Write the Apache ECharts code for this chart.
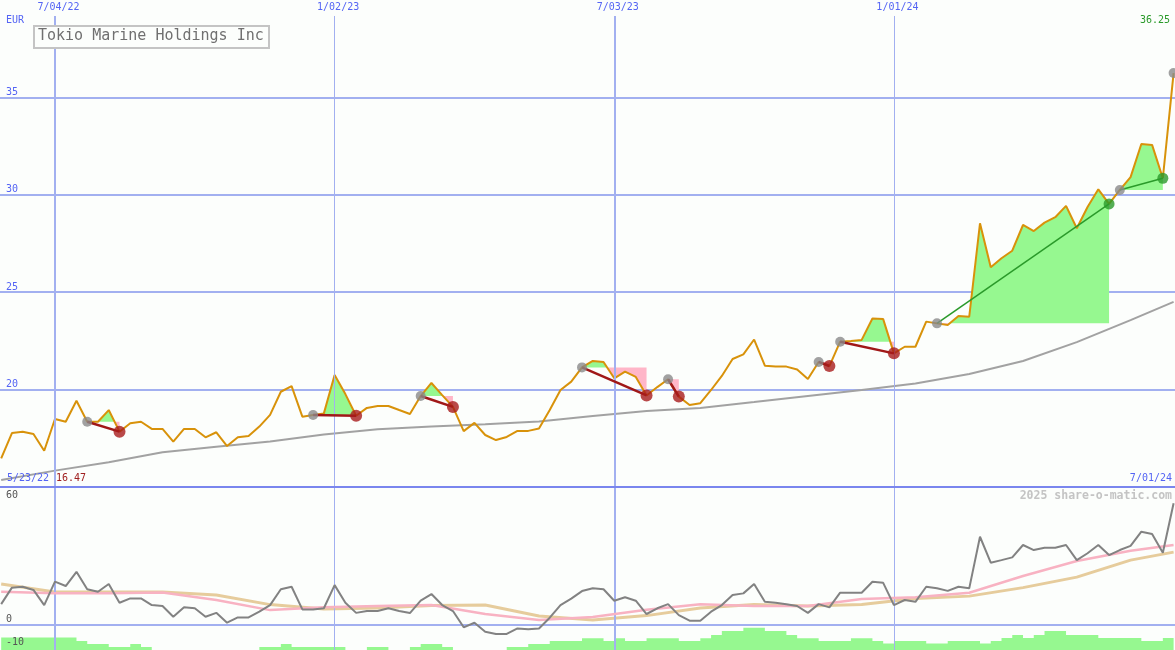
<!DOCTYPE html>
<html><head><meta charset="utf-8">
<script src="https://cdn.jsdelivr.net/npm/echarts@6/dist/echarts.min.js"></script>
<style>html,body{margin:0;padding:0;background:#fcfefc;}#c{width:1175px;height:650px;}</style>
</head><body><div id="c"></div>
<script>
// ---- data (weekly, week 0 = 7/04/22) ----
const startWeek = -5;
const dateTicks = [0, 26, 52, 78];
const dateLabels = ['7/04/22', '1/02/23', '7/03/23', '1/01/24'];
const firstDateLabel = '5/23/22';
const lastDateLabel = '7/01/24';
const priceTicks = [20, 25, 30, 35];
const oscTicksLow = [0, -10];
const oscTicksHigh = [60];
const titleText = 'Tokio Marine Holdings Inc';
const currencyText = 'EUR';
const watermarkText = '2025 share-o-matic.com';

const price = [
  16.47,17.77,17.84,17.72,16.86, 18.49,18.35,19.43,18.35,18.35,
  18.95,17.84,18.27,18.35,17.98, 17.98,17.33,17.98,17.98,17.55,
  17.81,17.10,17.55,17.62,18.10, 18.70,19.89,20.18,18.61,18.70,
  18.78,20.75,19.77,18.66,19.06, 19.16,19.16,18.95,18.75,19.67,
  20.34,19.72,19.11,17.87,18.29, 17.67,17.41,17.57,17.88,17.88,
  18.00,18.95,19.98,20.41,21.14, 21.47,21.42,20.58,20.92,20.65,
  19.70,20.13,20.53,19.64,19.21, 19.30,19.98,20.70,21.57,21.81,
  22.57,21.23,21.18,21.18,21.03, 20.54,21.42,21.21,22.46,22.50,
  22.55,23.65,23.62,21.86,22.20, 22.20,23.49,23.40,23.32,23.78,
  23.74,28.54,26.28,26.74,27.13, 28.45,28.14,28.57,28.85,29.43,
  28.28,29.37,30.28,29.53,30.25, 30.91,32.61,32.56,30.85,36.25
];
const smoothWeeks = [-5,0,5,10,15,20,25,30,35,40,45,50,55,60,65,70,75,80,85,90,95,100,104];
const priceMA = [15.36,15.84,16.27,16.78,17.07,17.33,17.70,17.96,18.10,18.22,18.36,18.64,18.90,19.06,19.36,19.67,19.98,20.31,20.80,21.47,22.44,23.57,24.50];

const osc = [
  8.9,16.1,16.5,15.1,8.5, 18.7,16.8,23.0,15.4,14.3,
  17.7,9.5,11.4,11.4,8.5, 8.1,3.4,7.5,7.1,3.4,
  5.1,0.8,3.1,3.1,5.6, 8.5,15.4,16.5,6.6,6.6,
  7.1,17.2,9.5,5.1,5.9, 5.9,7.1,5.9,5.0,10.4,
  13.3,8.5,5.9,-1.2,0.8, -3.1,-4.1,-4.1,-1.7,-2.1,
  -1.7,3.0,8.5,11.3,14.6, 15.8,15.4,10.4,11.9,10.4,
  4.6,7.1,8.9,4.1,1.7, 1.7,5.6,8.5,12.9,13.6,
  17.7,9.9,9.5,8.9,8.1, 5.1,8.9,7.5,13.9,13.9,
  13.9,18.7,18.2,8.5,10.7, 9.9,16.5,15.8,14.7,16.5,
  15.8,38.3,27.0,28.1,29.3, 34.7,32.5,33.5,33.5,34.7,
  28.1,31.1,34.7,30.3,32.5, 34.3,40.5,39.5,31.3,52.9
];
const oscPink = [14.3,13.6,13.7,14.0,10.7,6.3,7.6,8.1,8.5,4.6,2.0,3.3,6.5,8.9,8.1,8.1,11.1,11.9,13.9,21.2,27.7,32.2,34.7];
const oscTan  = [17.7,14.2,14.2,14.2,12.9,8.7,6.8,7.2,8.3,8.5,3.7,2.0,3.9,7.2,8.7,8.1,8.7,11.4,12.4,16.1,20.7,28.1,31.6];

const histo = [
  5.5,5.5,5.5,5.5,5.5, 5.5,5.5,3.9,2.6,2.6,
  1.3,1.3,2.6,1.3,0, 0,0,0,0,0,
  0,0,0,0,1.3, 1.3,2.6,1.3,1.3,1.3,
  1.3,1.3,0,0,1.3, 1.3,0,0,1.3,2.6,
  2.6,1.3,0,0,0, 0,0,1.3,1.3,2.6,
  2.6,3.9,3.9,3.9,5.1, 5.1,3.9,5.1,3.9,3.9,
  5.1,5.1,5.1,3.9,3.9, 5.1,6.5,8.3,8.3,9.7,
  9.7,8.3,8.3,6.5,5.1, 5.1,3.9,3.9,3.9,5.1,
  5.1,3.9,2.8,3.9,3.9, 3.9,2.8,2.8,3.9,3.9,
  3.9,2.8,3.9,5.2,6.5, 5.2,6.5,8.3,8.3,6.5,
  6.5,6.5,5.2,5.2,5.2, 5.2,3.9,3.9,5.2,5.2
];
// signal segments [start week, end week]
const segments = [[3,6],[24,28],[34,37],[49,55],[57,58],[71,72],[73,78],[82,98],[99,103]];
const openSignals = [104];

// ---- helpers ----
const X_MIN = -5.11, X_MAX = 104.13;
const P = w => price[w - startWeek];
const weekOf = i => startWeek + i;
const pairs = (arr) => arr.map((v, i) => [weekOf(i), v]);
const smoothPairs = (arr) => arr.map((v, i) => [smoothWeeks[i], v]);

function buildFills() {
  const out = [];
  segments.forEach(([s, e]) => {
    const base = P(s);
    let run = [[s, P(s)]];
    let sign = 0;
    for (let w = s; w < e; w++) {
      const a = P(w) - base, b = P(w + 1) - base;
      if (sign === 0 && a !== 0) sign = Math.sign(a);
      if (a * b < 0) {
        const xc = w + a / (a - b);
        run.push([xc, base]);
        out.push({ sign: Math.sign(a), base, pts: run });
        run = [[xc, base]];
        sign = Math.sign(b);
      }
      run.push([w + 1, P(w + 1)]);
      if (sign === 0 && b !== 0) sign = Math.sign(b);
    }
    out.push({ sign, base, pts: run });
  });
  return out.filter(f => f.sign !== 0).map(f => {
    const pts = f.pts.slice();
    pts.push([pts[pts.length - 1][0], f.base]);
    pts.push([pts[0][0], f.base]);
    return { sign: f.sign, pts };
  });
}
const fills = buildFills();

const grayPts = segments.map(([s]) => [s, P(s)]).concat(openSignals.map(w => [w, P(w)]));
const redPts = segments.filter(([s, e]) => P(e) < P(s)).map(([s, e]) => [e, P(e)]);
const greenPts = segments.filter(([s, e]) => P(e) >= P(s)).map(([s, e]) => [e, P(e)]);

const MONO = 'DejaVu Sans Mono';
const BLUE = '#5464f4';
const GRID = '#a2b0f0';

const chart = echarts.init(document.getElementById('c'), null, { renderer: 'canvas' });
chart.setOption({
  backgroundColor: '#fcfefc',
  animation: false,
  grid: [
    { left: 0, right: 0, top: 0, height: 487 },
    { left: 0, right: 0, top: 487, bottom: 0 }
  ],
  xAxis: [
    { gridIndex: 0, type: 'value', min: X_MIN, max: X_MAX, position: 'top',
      axisLine: { show: false, onZero: false }, axisTick: { show: false }, splitLine: { show: false },
      axisLabel: { inside: true, customValues: dateTicks, margin: 2, padding: [0, 0, 0, 7],
        formatter: v => { const k = dateTicks.indexOf(v); return k >= 0 ? dateLabels[k] : ''; },
        color: BLUE, fontFamily: MONO, fontSize: 10 } },
    { gridIndex: 0, type: 'value', min: X_MIN, max: X_MAX, position: 'bottom', z: 20,
      axisLine: { show: true, onZero: false, lineStyle: { color: '#7a86ee', width: 2 } },
      axisTick: { show: false }, axisLabel: { show: false }, splitLine: { show: false } },
    { gridIndex: 1, type: 'value', min: X_MIN, max: X_MAX, show: false }
  ],
  yAxis: [
    { gridIndex: 0, type: 'value', min: 15, max: 40, interval: 5,
      axisLine: { show: false }, axisTick: { show: false },
      splitLine: { lineStyle: { color: ['rgba(0,0,0,0)', GRID, GRID, GRID, GRID, 'rgba(0,0,0,0)'], width: 2 } },
      axisLabel: { inside: true, customValues: priceTicks, margin: 6, verticalAlign: 'bottom',
        color: BLUE, fontFamily: MONO, fontSize: 10 } },
    { gridIndex: 1, type: 'value', min: -11.1, max: 60, position: 'left', z: 20,
      axisLine: { show: false }, axisTick: { show: false }, splitLine: { show: false },
      axisLabel: { inside: true, customValues: oscTicksLow, margin: 6, verticalAlign: 'bottom',
        color: '#555', fontFamily: MONO, fontSize: 10 } },
    { gridIndex: 1, type: 'value', min: -11.1, max: 60, position: 'left', z: 20,
      axisLine: { show: false }, axisTick: { show: false }, splitLine: { show: false },
      axisLabel: { inside: true, customValues: oscTicksHigh, margin: 6, verticalAlign: 'top',
        color: '#555', fontFamily: MONO, fontSize: 10, padding: [3, 0, 0, 0] } },
    { gridIndex: 1, type: 'value', min: 0, max: 71.1, show: false }
  ],
  graphic: [
    { type: 'rect', left: 33, top: 25, shape: { width: 235, height: 22 },
      style: { fill: '#fcfefc', stroke: '#c4c4c4', lineWidth: 2 }, z: 100 },
    { type: 'text', left: 38, top: 29, z: 101,
      style: { text: titleText, fill: '#707070', font: '15px "DejaVu Sans Mono"' } },
    { type: 'text', left: 6, top: 15, z: 101,
      style: { text: currencyText, fill: BLUE, font: '10px "DejaVu Sans Mono"' } },
    { type: 'text', right: 5, top: 15, z: 101,
      style: { text: price[price.length - 1].toFixed(2), fill: '#2a9a2a', font: '10px "DejaVu Sans Mono"' } },
    { type: 'text', left: 7, top: 473, z: 101,
      style: { text: firstDateLabel, fill: BLUE, font: '10px "DejaVu Sans Mono"' } },
    { type: 'text', left: 56, top: 473, z: 101,
      style: { text: price[0].toFixed(2), fill: '#a02020', font: '10px "DejaVu Sans Mono"' } },
    { type: 'text', right: 3, top: 473, z: 101,
      style: { text: lastDateLabel, fill: BLUE, font: '10px "DejaVu Sans Mono"' } },
    { type: 'text', right: 3, top: 490, z: 101,
      style: { text: watermarkText, fill: '#c4c4c4', font: 'bold 11.5px "DejaVu Sans Mono"' } }
  ],
  series: [
    // vertical date lines, top panel
    { type: 'line', xAxisIndex: 0, yAxisIndex: 0, data: [], z: 1, silent: true,
      markLine: { silent: true, symbol: ['none', 'none'], label: { show: false }, animation: false,
        data: dateTicks.map((w, i) => [
          { coord: [w, 39.18], lineStyle: { color: GRID, width: i % 2 === 0 ? 2 : 1, type: 'solid' } },
          { coord: [w, 15] }]) } },
    // bottom panel histogram
    { type: 'line', xAxisIndex: 2, yAxisIndex: 3, z: 2, data: pairs(histo), step: 'end', symbol: 'none',
      lineStyle: { width: 0 }, areaStyle: { color: '#96f890', opacity: 1, origin: 'start' } },
    // vertical date lines + zero line, bottom panel (above the histogram)
    { type: 'line', xAxisIndex: 2, yAxisIndex: 1, data: [], z: 3, silent: true,
      markLine: { silent: true, symbol: ['none', 'none'], label: { show: false }, animation: false,
        data: dateTicks.map((w, i) => [
          { coord: [w, 60], lineStyle: { color: GRID, width: i % 2 === 0 ? 2 : 1, type: 'solid' } },
          { coord: [w, -11.1] }]).concat([
          [{ coord: [X_MIN, 0], lineStyle: { color: GRID, width: 2, type: 'solid' } }, { coord: [X_MAX, 0] }]]) } },
    // green / pink signal fills
    { type: 'custom', xAxisIndex: 0, yAxisIndex: 0, z: 2, silent: true, data: [[0, 20]],
      renderItem: (params, api) => ({ type: 'group', children: fills.map(f => ({
        type: 'polygon', shape: { points: f.pts.map(p => api.coord(p)) },
        style: { fill: f.sign > 0 ? '#96f890' : '#ffb6c8' } })) }) },
    // moving average
    { type: 'line', xAxisIndex: 0, yAxisIndex: 0, z: 3, data: smoothPairs(priceMA), symbol: 'none',
      lineStyle: { color: '#a2a2a2', width: 2 } },
    // price
    { type: 'line', xAxisIndex: 0, yAxisIndex: 0, z: 4, data: pairs(price), symbol: 'none',
      lineStyle: { color: '#d8920a', width: 2 } },
    // signal connectors
    { type: 'custom', xAxisIndex: 0, yAxisIndex: 0, z: 5, silent: true, data: [[0, 20]],
      renderItem: (params, api) => ({ type: 'group', children: segments.map(([s, e]) => {
        const a = api.coord([s, P(s)]), b = api.coord([e, P(e)]); const up = P(e) >= P(s);
        return { type: 'line', shape: { x1: a[0], y1: a[1], x2: b[0], y2: b[1] },
          style: { stroke: up ? '#2a9a2a' : '#a01818', lineWidth: up ? 1.5 : 2.5 } }; }) }) },
    { type: 'scatter', xAxisIndex: 0, yAxisIndex: 0, z: 6, data: grayPts, symbolSize: 10,
      itemStyle: { color: '#8a8a8a' } },
    { type: 'scatter', xAxisIndex: 0, yAxisIndex: 0, z: 6, data: redPts, symbolSize: 12,
      itemStyle: { color: '#a81c1c' } },
    { type: 'scatter', xAxisIndex: 0, yAxisIndex: 0, z: 6, data: greenPts, symbolSize: 11,
      itemStyle: { color: '#2a9a2a' } },
    // bottom panel indicator lines
    { type: 'line', xAxisIndex: 2, yAxisIndex: 1, z: 4, data: smoothPairs(oscTan), symbol: 'none',
      lineStyle: { color: '#e6cc9c', width: 3 } },
    { type: 'line', xAxisIndex: 2, yAxisIndex: 1, z: 5, data: smoothPairs(oscPink), symbol: 'none',
      lineStyle: { color: '#f8b2c2', width: 2.5 } },
    { type: 'line', xAxisIndex: 2, yAxisIndex: 1, z: 6, data: pairs(osc), symbol: 'none',
      lineStyle: { color: '#828282', width: 2 } }
  ]
});
</script>
</body></html>
